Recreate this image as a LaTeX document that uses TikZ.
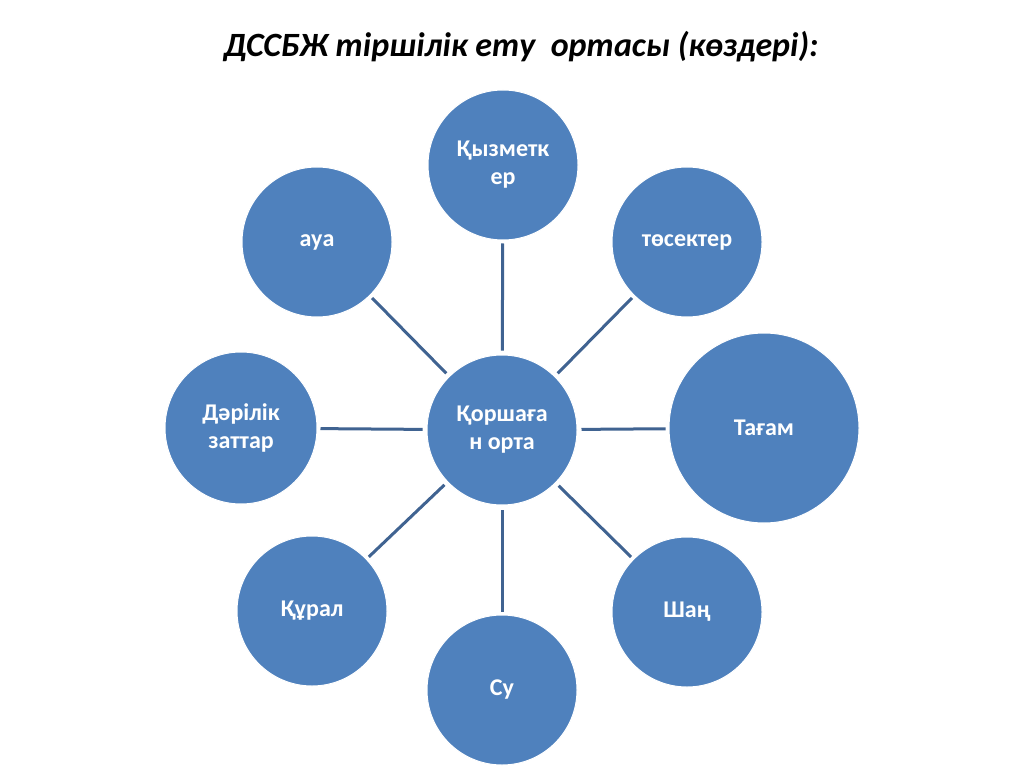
\documentclass[tikz,border=0pt]{standalone}
\usepackage{fontspec}
\setmainfont{Carlito}
\definecolor{bubfill}{RGB}{79,129,189}
\definecolor{spokecol}{RGB}{64,99,145}
\begin{document}
\begin{tikzpicture}[x=1pt,y=-1pt,
  bub/.style={circle, fill=bubfill, draw=white, line width=1pt, text=white,
    font=\bfseries\fontsize{24}{28}\selectfont, align=center, inner sep=0pt, minimum size=150},
  spoke/.style={draw=spokecol, line width=3pt, shorten >=4pt, shorten <=3pt}]
\useasboundingbox (0,0) rectangle (1024,767);
\fill[white] (0,0) rectangle (1024,767);
\node[font=\bfseries\itshape\fontsize{34}{40}\selectfont] (title) at (521,47) {ДССБЖ тіршілік ету\ \ ортасы (көздері):};
\node[bub] (c) at (502,430) {Қоршаға\\н орта};
\node[bub] (q) at (503,165) {Қызметк\\ер};
\node[bub] (a) at (317,242) {ауа};
\node[bub] (t) at (687,242) {төсектер};
\node[bub, minimum size=190] (tg) at (764,428) {Тағам};
\node[bub, minimum size=152] (d) at (241,428) {Дәрілік\\заттар};
\node[bub] (k) at (312,611) {Құрал};
\node[bub] (sh) at (687,612) {Шаң};
\node[bub] (s) at (502,690) {Су};
\foreach \n in {q,a,t,tg,d,k,sh,s} \draw[spoke] (\n) -- (c);
\end{tikzpicture}
\end{document}
